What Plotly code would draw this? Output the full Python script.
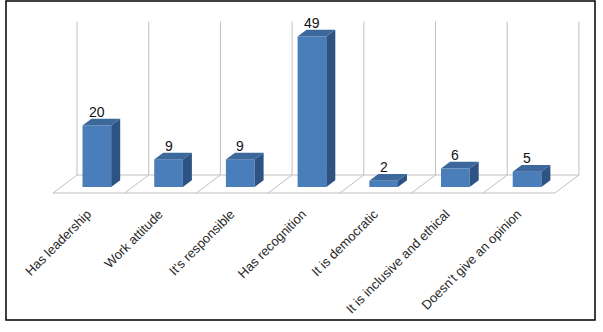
import plotly.graph_objects as go

categories = ["Has leadership", "Work attitude", "It's responsible", "Has recognition",
              "It is democratic", "It is inclusive and ethical", "Doesn't give an opinion"]
values = [20, 9, 9, 49, 2, 6, 5]

# pseudo-3D projection parameters (in axis units)
DEPTH_DX = 0.335      # x shift for full depth
DEPTH_DY = 5.86       # y shift for full depth
Z_FRONT = 0.333       # bar front plane depth
BAR_DEPTH = 0.375     # bar depth as fraction of full depth
BAR_W = 0.4
AXIS_MAX = 50
LABEL_OFFSET = -0.02

FRONT = "#4A7EBB"
TOP = "#3D689C"
SIDE = "#2D5383"
GRID = "#BFBFBF"

n = len(categories)
xs = [i + Z_FRONT * DEPTH_DX for i in range(n)]
base = Z_FRONT * DEPTH_DY
ddx = BAR_DEPTH * DEPTH_DX
ddy = BAR_DEPTH * DEPTH_DY

fig = go.Figure()
fig.add_trace(go.Bar(x=xs, y=values, base=[base] * n, width=BAR_W,
                     marker=dict(color=FRONT, line=dict(width=0)),
                     hoverinfo="skip", showlegend=False))

shapes = []
# floor
shapes.append(dict(type="line", xref="x", yref="y", x0=-0.5, y0=0, x1=n - 0.5, y1=0,
                   line=dict(color=GRID, width=1), layer="below"))
shapes.append(dict(type="line", xref="x", yref="y", x0=-0.5 + DEPTH_DX, y0=DEPTH_DY,
                   x1=n - 0.5 + DEPTH_DX, y1=DEPTH_DY, line=dict(color=GRID, width=1), layer="below"))
for k in range(n + 1):
    bx = k - 0.5
    shapes.append(dict(type="line", xref="x", yref="y", x0=bx, y0=0, x1=bx + DEPTH_DX, y1=DEPTH_DY,
                       line=dict(color=GRID, width=1), layer="below"))
    shapes.append(dict(type="line", xref="x", yref="y", x0=bx + DEPTH_DX, y0=DEPTH_DY,
                       x1=bx + DEPTH_DX, y1=DEPTH_DY + AXIS_MAX,
                       line=dict(color=GRID, width=1), layer="below"))

annotations = []
for x, v in zip(xs, values):
    x0, x1 = x - BAR_W / 2, x + BAR_W / 2
    top = base + v
    shapes.append(dict(type="path", xref="x", yref="y",
                       path=f"M{x0},{top} L{x1},{top} L{x1+ddx},{top+ddy} L{x0+ddx},{top+ddy} Z",
                       fillcolor=TOP, line=dict(width=0), layer="above"))
    shapes.append(dict(type="path", xref="x", yref="y",
                       path=f"M{x1},{base} L{x1},{top} L{x1+ddx},{top+ddy} L{x1+ddx},{base+ddy} Z",
                       fillcolor=SIDE, line=dict(width=0), layer="above"))
    annotations.append(dict(x=x, y=top + ddy, xref="x", yref="y", text=str(v), showarrow=False,
                            yanchor="bottom", yshift=-3,
                            font=dict(family="Liberation Sans, Arial", size=14, color="#111111")))

# outer black frame
W, H = 603, 332
ml, mr, mt, mb = 53, 23, 15, 129
pw, ph = W - ml - mr, H - mt - mb
shapes.append(dict(type="rect", xref="paper", yref="paper",
                   x0=(6 - ml) / pw, x1=(595 - ml) / pw,
                   y0=(H - mb - 320) / ph, y1=(H - mb - 1) / ph,
                   line=dict(color="black", width=1.5), fillcolor="rgba(0,0,0,0)"))

px_per_unit = 3.07
ymax = (H - mb - mt - 10) / px_per_unit
fig.update_layout(
    width=W, height=H, margin=dict(l=ml, r=mr, t=mt, b=mb, autoexpand=False),
    paper_bgcolor="white", plot_bgcolor="white",
    shapes=shapes, annotations=annotations, showlegend=False,
    xaxis=dict(range=[-0.5, -0.5 + pw / 71.7], tickvals=[i + LABEL_OFFSET for i in range(n)],
               ticktext=categories, automargin=False,
               tickangle=-45, showgrid=False, zeroline=False, showline=False, ticks="",
               tickfont=dict(family="Liberation Sans, Arial", size=13, color="#2A2A2A")),
    yaxis=dict(range=[-10 / px_per_unit, ymax], visible=False, showgrid=False, zeroline=False,
               automargin=False),
)
fig.write_html("out.html", config={"displayModeBar": False, "staticPlot": True},
               post_script="document.body.style.margin='0';document.body.style.overflow='hidden';")
